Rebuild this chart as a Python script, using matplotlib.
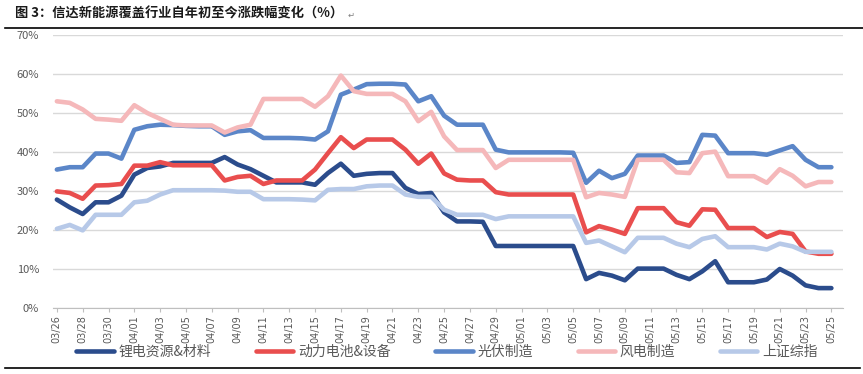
import matplotlib
matplotlib.use("Agg")
import matplotlib.pyplot as plt
from matplotlib.lines import Line2D
import pandas as pd

plt.rcParams['font.family'] = ['Noto Sans CJK SC', 'DejaVu Sans']

# daily categories 03/26 .. 05/25
dates = pd.date_range("2022-03-26", "2022-05-25", freq="D")
date_labels = [d.strftime("%m/%d") for d in dates]

names = ["锂电资源&材料", "动力电池&设备", "光伏制造", "风电制造", "上证综指"]

lithium = [27.8, 25.8, 24.1, 27.1, 27.1, 28.8, 34.2, 35.9, 36.3, 37.2, 37.2,
           37.2, 37.2, 38.7, 36.8, 35.6, 33.9, 32.2, 32.2, 32.2, 31.6,
           34.6, 37.0, 33.9, 34.4, 34.6, 34.6, 30.8, 29.2, 29.5, 24.5,
           22.2, 22.2, 22.1, 15.9, 15.9, 15.9, 15.9, 15.9, 15.9, 15.9,
           7.4, 9.0, 8.3, 7.1, 10.1, 10.1, 10.1, 8.5, 7.4, 9.4,
           12.0, 6.6, 6.6, 6.6, 7.3, 10.0, 8.3, 5.8, 5.1, 5.1]

battery = [29.9, 29.5, 28.0, 31.4, 31.5, 31.8, 36.5, 36.5, 37.4, 36.6, 36.6,
           36.6, 36.6, 32.7, 33.6, 33.9, 31.8, 32.7, 32.7, 32.7, 35.5,
           39.7, 43.8, 41.0, 43.2, 43.2, 43.2, 40.6, 37.0, 39.6, 34.5,
           32.9, 32.7, 32.7, 29.7, 29.1, 29.1, 29.1, 29.1, 29.1, 29.1,
           19.4, 21.0, 20.1, 19.0, 25.6, 25.6, 25.6, 22.0, 21.1, 25.3,
           25.2, 20.5, 20.5, 20.5, 18.2, 19.5, 19.0, 14.5, 13.9, 13.9]

solar = [35.5, 36.1, 36.1, 39.6, 39.6, 38.3, 45.7, 46.6, 47.0, 46.9, 46.7,
         46.6, 46.6, 44.4, 45.3, 45.6, 43.6, 43.6, 43.6, 43.5, 43.2,
         45.3, 54.7, 56.0, 57.4, 57.5, 57.5, 57.3, 53.0, 54.3, 49.3,
         47.0, 47.0, 47.0, 40.6, 39.9, 39.9, 39.9, 39.9, 39.9, 39.8,
         32.1, 35.2, 33.3, 34.4, 39.1, 39.1, 39.1, 37.2, 37.4, 44.4,
         44.2, 39.7, 39.7, 39.7, 39.3, 40.4, 41.5, 38.0, 36.1, 36.1]

wind = [53.0, 52.6, 50.9, 48.5, 48.3, 48.0, 52.0, 50.0, 48.5, 47.0, 46.8,
        46.8, 46.8, 45.0, 46.3, 47.0, 53.6, 53.6, 53.6, 53.6, 51.6,
        54.3, 59.6, 55.6, 54.9, 54.9, 54.9, 53.0, 47.9, 50.3, 44.0,
        40.5, 40.5, 40.5, 35.9, 38.0, 38.0, 38.0, 38.0, 38.0, 38.0,
        28.4, 29.5, 29.1, 28.5, 38.0, 38.0, 38.0, 34.8, 34.6, 39.7,
        40.1, 33.8, 33.8, 33.8, 32.1, 35.6, 33.9, 31.2, 32.3, 32.3]

sse = [20.3, 21.3, 19.9, 23.9, 23.9, 23.9, 27.1, 27.5, 29.1, 30.2, 30.2,
       30.2, 30.2, 30.1, 29.8, 29.8, 27.9, 27.9, 27.9, 27.8, 27.6,
       30.3, 30.5, 30.5, 31.2, 31.4, 31.4, 29.1, 28.5, 28.5, 25.2,
       23.9, 23.9, 23.9, 22.8, 23.5, 23.5, 23.5, 23.5, 23.5, 23.5,
       16.7, 17.3, 15.8, 14.3, 18.0, 18.0, 18.0, 16.5, 15.6, 17.7,
       18.4, 15.6, 15.6, 15.6, 15.0, 16.5, 15.8, 14.4, 14.4, 14.4]

series = [lithium, battery, solar, wind, sse]
colors = ["#2B4C8C", "#E94E4E", "#5B86C8", "#F5B8BA", "#B7C9E8"]

fig = plt.figure(figsize=(8.63, 3.74), dpi=100)
ax = fig.add_axes([53 / 863, 1 - 308 / 374, (843 - 53) / 863, (308 - 35) / 374])

x = list(range(len(dates)))
for vals, c, name in zip(series, colors, names):
    ax.plot(x, vals, color=c, lw=3.3, label=name,
            solid_joinstyle="round", solid_capstyle="round")

ax.set_ylim(0, 70)
ax.set_yticks(range(0, 71, 10))
ax.set_yticklabels([f"{v}%" for v in range(0, 71, 10)])
ax.set_xlim(-0.3, 60.9)
ax.set_xticks(x[::2])
ax.set_xticklabels(date_labels[::2], rotation=90, family="DejaVu Sans")

ax.grid(axis="y", color="#D9D9D9", lw=1)
ax.set_axisbelow(True)
for s in ["top", "right", "left"]:
    ax.spines[s].set_visible(False)
ax.spines["bottom"].set_color("#BFBFBF")
ax.tick_params(axis="y", length=0, pad=10, labelsize=8, labelcolor="#595959")
ax.tick_params(axis="x", length=3, color="#BFBFBF", pad=2, labelsize=7,
               labelcolor="#595959")

fig.legend(loc="center", bbox_to_anchor=(0.518, 0.059), ncol=5, frameon=False,
           fontsize=10, handlelength=2.7, handletextpad=0.35, columnspacing=3.2,
           labelcolor="#595959")

fig.text(15 / 863, 1 - 14 / 374, "图 3：信达新能源覆盖行业自年初至今涨跌幅变化（%）",
         fontsize=9.5, fontweight="bold", color="#1A1A1A", va="center")
fig.text(348 / 863, 1 - 15 / 374, "↵", fontsize=6, color="#808080", va="center",
         family=["DejaVu Sans"])
fig.add_artist(Line2D([5 / 863, 1], [1 - 28 / 374] * 2, color="black", lw=1.2))
fig.add_artist(Line2D([5 / 863, 860 / 863], [1 - 368 / 374] * 2, color="black", lw=1.2))

fig.savefig("out.png", dpi=100)
